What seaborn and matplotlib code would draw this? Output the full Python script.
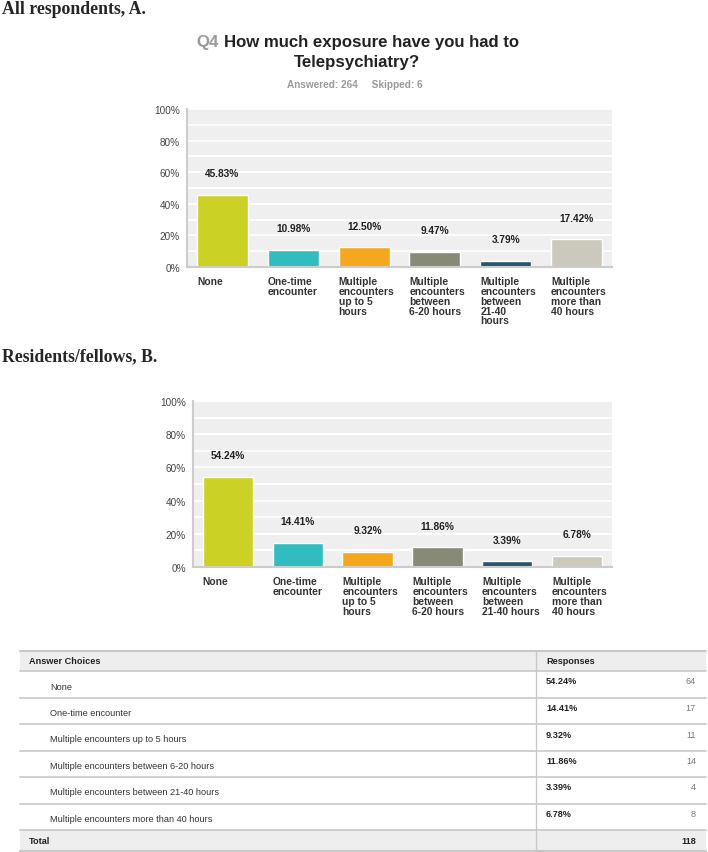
import matplotlib
matplotlib.use("Agg")
import matplotlib.pyplot as plt
from matplotlib.patches import Rectangle
from matplotlib.transforms import ScaledTranslation
import pandas as pd
import seaborn as sns

# data
choices = ["None", "One-time encounter", "Multiple encounters up to 5 hours",
           "Multiple encounters between 6-20 hours",
           "Multiple encounters between 21-40 hours",
           "Multiple encounters more than 40 hours"]
labels_a = ["None", "One-time\nencounter", "Multiple\nencounters\nup to 5\nhours",
            "Multiple\nencounters\nbetween\n6-20 hours",
            "Multiple\nencounters\nbetween\n21-40\nhours",
            "Multiple\nencounters\nmore than\n40 hours"]
labels_b = ["None", "One-time\nencounter", "Multiple\nencounters\nup to 5\nhours",
            "Multiple\nencounters\nbetween\n6-20 hours",
            "Multiple\nencounters\nbetween\n21-40 hours",
            "Multiple\nencounters\nmore than\n40 hours"]
pct_all = [45.83, 10.98, 12.50, 9.47, 3.79, 17.42]
pct_res = [54.24, 14.41, 9.32, 11.86, 3.39, 6.78]
count_res = [64, 17, 11, 14, 4, 8]
total_res = 118
answered, skipped = 264, 6
colors = ["#cbd225", "#31bcbf", "#f5a81e", "#878a77", "#25566a", "#cbc9bb"]

sns.set_style("white")
plt.rcParams["font.family"] = ["Liberation Sans", "DejaVu Sans"]

W, H = 708, 853
fig = plt.figure(figsize=(W / 100, H / 100), dpi=100)


def px_axes(left, top, right, bottom):
    return fig.add_axes([left / W, 1 - bottom / H, (right - left) / W, (bottom - top) / H])


def bar_chart(ax, pct, labels):
    df = pd.DataFrame({"choice": choices, "pct": pct})
    sns.barplot(data=df, x="choice", y="pct", hue="choice", palette=colors,
                legend=False, width=0.72, saturation=1, ax=ax)
    ax.set_facecolor("#efefef")
    ax.set_ylim(0, 100)
    ax.set_xlim(-0.5, 5.5)
    ax.set_yticks(range(0, 101, 10))
    ax.set_yticklabels([f"{v}%" if v % 20 == 0 else "" for v in range(0, 101, 10)])
    ax.tick_params(axis="y", length=0, labelsize=7.2, labelcolor="#444444", pad=5)
    ax.grid(axis="y", color="white", linewidth=1.3)
    ax.set_axisbelow(True)
    ax.set_xticks([])
    ax.set_xlabel("")
    ax.set_ylabel("")
    for s in ["top", "right"]:
        ax.spines[s].set_visible(False)
    for s in ["left", "bottom"]:
        ax.spines[s].set_color("#cccccc")
        ax.spines[s].set_linewidth(1.5)
    for p, v in zip(ax.patches, pct):
        ax.annotate(f"{v:.2f}%", (p.get_x() + p.get_width() / 2, p.get_height()),
                    xytext=(0, 12), textcoords="offset points", ha="center",
                    va="bottom", fontsize=7.3, fontweight="bold", color="#222222")
    off = ScaledTranslation(0, -9 / 100, fig.dpi_scale_trans)
    for i, lab in enumerate(labels):
        ax.text(i - 0.36, 0, lab, transform=ax.get_xaxis_transform() + off,
                ha="left", va="top", fontsize=7.4, fontweight="bold",
                color="#333333", linespacing=0.98)


# headings
fig.text(2 / W, 1 - 10 / H, "All respondents, A.", family="Liberation Serif",
         fontweight="bold", fontsize=12.8, ha="left", va="center")
fig.text(2 / W, 1 - 357 / H, "Residents/fellows, B.", family="Liberation Serif",
         fontweight="bold", fontsize=12.8, ha="left", va="center")

# survey title: gray "Q4" followed by dark question text, centred together
title_fs = 12.1
q4 = fig.text(0, 1 - 42 / H, "Q4", fontsize=title_fs, fontweight="bold",
              color="#999999", ha="left", va="center")
rest = fig.text(0, 1 - 42 / H, "How much exposure have you had to", fontsize=title_fs,
                fontweight="bold", color="#222222", ha="left", va="center")
renderer = fig.canvas.get_renderer()
w_q4 = q4.get_window_extent(renderer).width
w_rest = rest.get_window_extent(renderer).width
gap = 5
start = 358 - (w_q4 + gap + w_rest) / 2
q4.set_x(start / W)
rest.set_x((start + w_q4 + gap) / W)
fig.text(357 / W, 1 - 63 / H, "Telepsychiatry?", fontsize=title_fs, fontweight="bold",
         color="#222222", ha="center", va="center")
fig.text(355 / W, 1 - 85 / H, f"Answered: {answered}     Skipped: {skipped}",
         fontsize=7.2, fontweight="bold", color="#999999", ha="center", va="center")

ax_a = px_axes(187, 110, 612, 268)
bar_chart(ax_a, pct_all, labels_a)
ax_b = px_axes(193, 402, 612, 568)
bar_chart(ax_b, pct_res, labels_b)

# table
ax_t = fig.add_axes([0, 0, 1, 1])
ax_t.set_xlim(0, W)
ax_t.set_ylim(H, 0)
ax_t.axis("off")
left, right, div = 20, 706, 536
head_top, head_bot = 652, 672
row_h = 26.5
tot_top = head_bot + row_h * len(choices)
tot_bot = tot_top + 21
fs = 6.6
ax_t.add_patch(Rectangle((left, head_top), right - left, head_bot - head_top,
                         facecolor="#eeeeee", edgecolor="none"))
ax_t.add_patch(Rectangle((left, tot_top), right - left, tot_bot - tot_top,
                         facecolor="#eeeeee", edgecolor="none"))
ax_t.plot([left, right], [head_top, head_top], color="#c8c8c8", lw=1.5)
ax_t.plot([left, right], [tot_bot, tot_bot], color="#c8c8c8", lw=1.5)
ax_t.plot([div, div], [head_top, tot_bot], color="#c8c8c8", lw=1)
ax_t.text(29, (head_top + head_bot) / 2, "Answer Choices", fontsize=fs,
          fontweight="bold", color="#222222", va="center")
ax_t.text(546, (head_top + head_bot) / 2, "Responses", fontsize=fs,
          fontweight="bold", color="#222222", va="center")
for i, (c, p, n) in enumerate(zip(choices, pct_res, count_res)):
    top = head_bot + i * row_h
    ax_t.plot([left, right], [top, top], color="#c8c8c8", lw=1.2)
    ax_t.text(50, top + 15, c, fontsize=fs, color="#333333", va="center")
    ax_t.text(546, top + 10, f"{p:.2f}%", fontsize=fs, fontweight="bold",
              color="#222222", va="center")
    ax_t.text(696, top + 10, str(n), fontsize=fs, color="#777777",
              va="center", ha="right")
ax_t.plot([left, right], [tot_top, tot_top], color="#c8c8c8", lw=1.2)
ax_t.text(29, (tot_top + tot_bot) / 2, "Total", fontsize=fs, fontweight="bold",
          color="#222222", va="center")
ax_t.text(696, (tot_top + tot_bot) / 2, str(total_res), fontsize=fs,
          fontweight="bold", color="#222222", va="center", ha="right")

fig.savefig("out.png", dpi=100)
